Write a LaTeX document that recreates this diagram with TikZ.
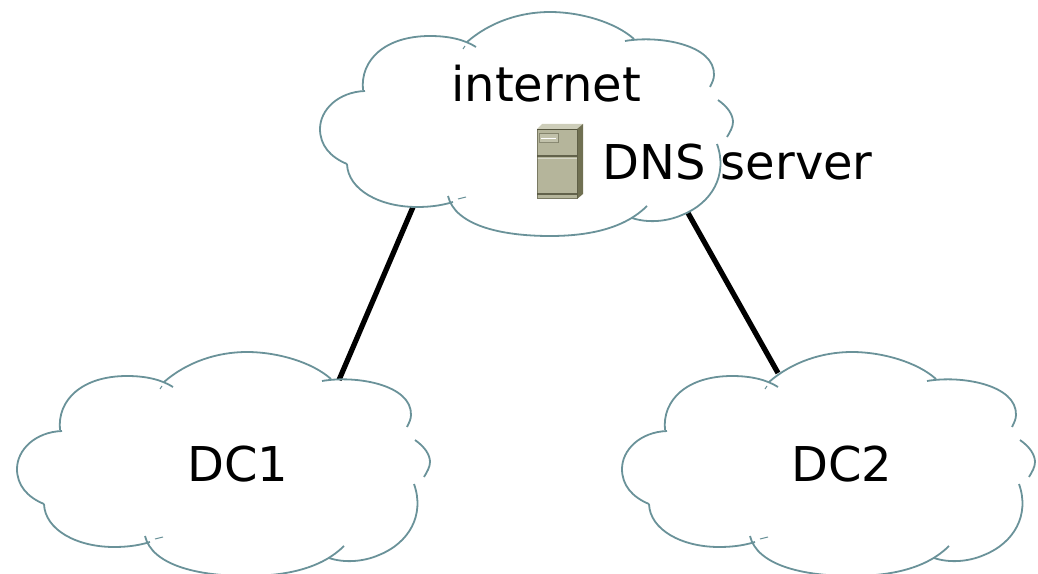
\documentclass[tikz,border=0pt]{standalone}
\usepackage{fontspec}
\setmainfont{DejaVu Sans}

\tikzset{
	cloudline/.style={cloudcolor, line width=0.036cm},
	cloudtick/.style={cloudcolor, line width=0.02cm},
	linkline/.style={black, line width=0.105cm},
	label/.style={anchor=base west, inner sep=0pt, font=\fontsize{27.3pt}{30pt}\selectfont},
	cloudshape/.pic={
		\draw[cloudtick] (153,49) -- (155,46);
		\draw[cloudline] (157,42) .. controls (180,22) and (210,12) .. (240,12) .. controls (270,12) and (305,22) .. (324,39);
		\draw[cloudline] (315,41) .. controls (350,35) and (405,45) .. (404,75) .. controls (404,79) and (402,83) .. (400,87);
		\draw[cloudline] (408,100) .. controls (418,107) and (423,115) .. (423,122) .. controls (423,127) and (420,132) .. (417,137);
		\draw[cloudline] (407,144) .. controls (418,175) and (402,203) .. (372,215) .. controls (356,222) and (337,223) .. (322,218);
		\draw[cloudline] (337,206) .. controls (315,228) and (280,236) .. (240,236) .. controls (190,236) and (145,225) .. (138,196);
		\draw[cloudtick] (148,199) -- (156,197);
		\draw[cloudline] (143,202) .. controls (130,206) and (118,207) .. (107,207) .. controls (70,207) and (38,190) .. (37,164);
		\draw[cloudline] (37,164) .. controls (20,157) and (10,145) .. (10,129) .. controls (10,110) and (28,92) .. (55,91);
		\draw[cloudline] (53,90) .. controls (50,60) and (75,36) .. (120,36) .. controls (140,36) and (155,40) .. (166,47);
	}
}

\begin{document}
\begin{tikzpicture}[x=0.02cm, y=-0.02cm]
	\definecolor{cloudcolor}{RGB}{106,146,153}
	\definecolor{serverfront}{RGB}{181,181,155}
	\definecolor{servertop}{RGB}{205,205,185}
	\definecolor{serverside}{RGB}{112,112,82}
	\definecolor{serverdark}{RGB}{84,84,62}

	\useasboundingbox (0,0) rectangle (1038,574);

	\coordinate (internetsw) at (413,207);
	\coordinate (internetse) at (688,213);
	\coordinate (dcleft) at (339,380);
	\coordinate (dcright) at (778,373);
	\draw[linkline] (internetsw) -- (dcleft);
	\draw[linkline] (internetse) -- (dcright);

	\pic at (310,0) {cloudshape};
	\pic at (7,340) {cloudshape};
	\pic at (612,340) {cloudshape};

	\fill[servertop] (537,129) -- (542,124) -- (583,124) -- (577,129) -- cycle;
	\fill[serverside] (577,129) -- (583,124) -- (583,194) -- (577,199) -- cycle;
	\fill[serverfront] (537,129) rectangle (577,199);
	\draw[serverdark, line width=0.025cm] (537,129.5) -- (577,129.5);
	\draw[serverdark, opacity=0.85, line width=0.03cm] (537,156) -- (577,156);
	\draw[white, opacity=0.45, line width=0.015cm] (537,158) -- (577,158);
	\draw[serverdark, opacity=0.85, line width=0.03cm] (537,194) -- (577,194);
	\draw[serverdark, opacity=0.6, line width=0.02cm] (537,129) -- (537,199) -- (577,199) -- (577,129);
	\draw[serverdark, opacity=0.5, fill=servertop, line width=0.02cm] (539,134) rectangle (558,143);
	\draw[white, line width=0.015cm] (541,138) -- (556,138);

	\node[label] (internet) at (451,102) {internet};
	\node[label] (dns) at (602,180) {DNS server};
	\node[label] (dc1) at (187,481) {DC1};
	\node[label] (dc2) at (791,481) {DC2};
\end{tikzpicture}
\end{document}
